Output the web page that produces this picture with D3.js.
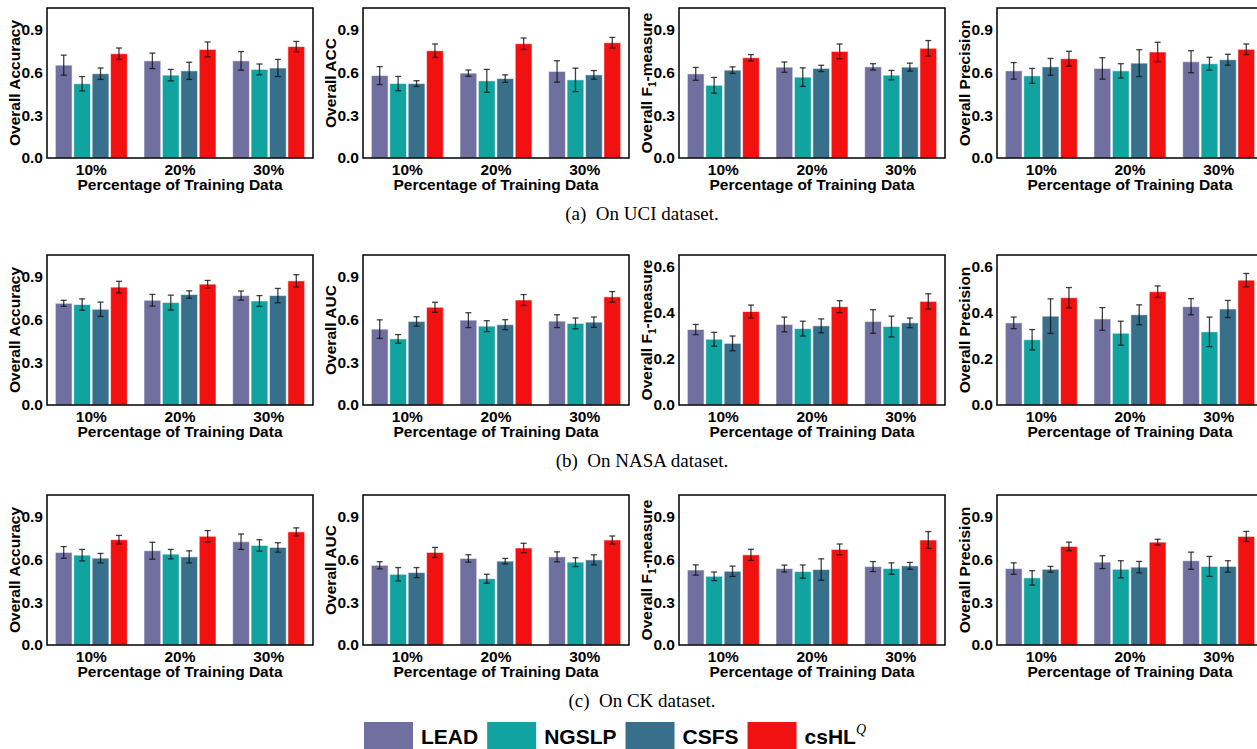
<!DOCTYPE html>
<meta charset="utf-8">
<head>
  <title>Overall results per dataset</title>
</head>
<style>
body { margin: 0; background: #fff; }
svg text { font-family: "Liberation Sans", Arial, sans-serif; font-weight: bold; fill: #000; }
svg text.caption { font-family: "Liberation Serif", "Times New Roman", serif; font-weight: normal; }
</style>
<body>
<svg id="chart" width="1257" height="749"></svg>
<script src="https://cdnjs.cloudflare.com/ajax/libs/d3/7.8.5/d3.min.js"></script>
<script>
// categories and series
const groups = ["10%", "20%", "30%"];
const methods = ["LEAD", "NGSLP", "CSFS", "csHL"];
const colors = ["#7070a0", "#10a3a0", "#38708c", "#f21111"];
const captions = ["(a)  On UCI dataset.", "(b)  On NASA dataset.", "(c)  On CK dataset."];

// values: one row per method, one column per group
const uciAcc = [[0.65, 0.68, 0.68], [0.52, 0.58, 0.62], [0.59, 0.61, 0.63], [0.73, 0.76, 0.78]];
const uciAccErr = [[0.07, 0.054, 0.065], [0.05, 0.04, 0.038], [0.04, 0.06, 0.06], [0.04, 0.052, 0.036]];
const uciACC = [[0.577, 0.594, 0.606], [0.521, 0.54, 0.547], [0.521, 0.556, 0.582], [0.751, 0.80, 0.807]];
const uciACCErr = [[0.063, 0.022, 0.075], [0.05, 0.08, 0.082], [0.02, 0.026, 0.03], [0.047, 0.04, 0.037]];
const uciF1 = [[0.589, 0.636, 0.638], [0.509, 0.566, 0.58], [0.615, 0.627, 0.636], [0.702, 0.746, 0.768]];
const uciF1Err = [[0.045, 0.036, 0.022], [0.055, 0.065, 0.033], [0.023, 0.022, 0.028], [0.022, 0.052, 0.054]];
const uciPre = [[0.61, 0.627, 0.674], [0.575, 0.61, 0.66], [0.638, 0.664, 0.688], [0.695, 0.742, 0.761]];
const uciPreErr = [[0.058, 0.075, 0.077], [0.052, 0.05, 0.045], [0.059, 0.094, 0.038], [0.052, 0.068, 0.037]];

const nasaAcc = [[0.712, 0.733, 0.766], [0.703, 0.717, 0.728], [0.67, 0.773, 0.766], [0.825, 0.846, 0.869]];
const nasaAccErr = [[0.021, 0.041, 0.032], [0.04, 0.052, 0.038], [0.05, 0.026, 0.05], [0.041, 0.026, 0.043]];
const nasaAUC = [[0.531, 0.594, 0.587], [0.463, 0.552, 0.571], [0.585, 0.562, 0.58], [0.684, 0.735, 0.757]];
const nasaAUCErr = [[0.065, 0.052, 0.045], [0.03, 0.038, 0.038], [0.033, 0.035, 0.036], [0.035, 0.038, 0.037]];
const nasaF1 = [[0.327, 0.349, 0.362], [0.285, 0.331, 0.34], [0.267, 0.343, 0.356], [0.405, 0.426, 0.449]];
const nasaF1Err = [[0.022, 0.032, 0.051], [0.03, 0.032, 0.045], [0.032, 0.03, 0.021], [0.028, 0.026, 0.033]];
const nasaPre = [[0.356, 0.373, 0.426], [0.283, 0.311, 0.317], [0.385, 0.391, 0.416], [0.465, 0.491, 0.541]];
const nasaPreErr = [[0.025, 0.049, 0.035], [0.044, 0.052, 0.064], [0.075, 0.043, 0.037], [0.044, 0.025, 0.029]];

const ckAcc = [[0.648, 0.66, 0.723], [0.629, 0.636, 0.697], [0.608, 0.617, 0.683], [0.737, 0.761, 0.792]];
const ckAccErr = [[0.041, 0.059, 0.054], [0.04, 0.033, 0.04], [0.033, 0.042, 0.033], [0.03, 0.04, 0.028]];
const ckAUC = [[0.558, 0.606, 0.617], [0.495, 0.464, 0.58], [0.507, 0.587, 0.596], [0.648, 0.679, 0.735]];
const ckAUCErr = [[0.025, 0.026, 0.035], [0.047, 0.031, 0.031], [0.035, 0.019, 0.035], [0.035, 0.033, 0.028]];
const ckF1 = [[0.525, 0.535, 0.549], [0.481, 0.514, 0.535], [0.516, 0.528, 0.554], [0.631, 0.669, 0.735]];
const ckF1Err = [[0.036, 0.024, 0.035], [0.03, 0.046, 0.04], [0.036, 0.075, 0.024], [0.039, 0.038, 0.059]];
const ckPre = [[0.535, 0.58, 0.59], [0.47, 0.53, 0.55], [0.53, 0.545, 0.55], [0.69, 0.72, 0.76]];
const ckPreErr = [[0.04, 0.045, 0.06], [0.05, 0.06, 0.07], [0.02, 0.04, 0.04], [0.03, 0.02, 0.035]];

const yTicks = [0.0, 0.3, 0.6, 0.9];
const yTicksSmall = [0.0, 0.2, 0.4, 0.6];

const rows = [
  [[uciAcc, uciAccErr, "Overall Accuracy", 1.05, yTicks],
   [uciACC, uciACCErr, "Overall ACC", 1.05, yTicks],
   [uciF1, uciF1Err, "F1", 1.05, yTicks],
   [uciPre, uciPreErr, "Overall Precision", 1.05, yTicks]],
  [[nasaAcc, nasaAccErr, "Overall Accuracy", 1.05, yTicks],
   [nasaAUC, nasaAUCErr, "Overall AUC", 1.05, yTicks],
   [nasaF1, nasaF1Err, "F1", 0.65, yTicksSmall],
   [nasaPre, nasaPreErr, "Overall Precision", 0.65, yTicksSmall]],
  [[ckAcc, ckAccErr, "Overall Accuracy", 1.05, yTicks],
   [ckAUC, ckAUCErr, "Overall AUC", 1.05, yTicks],
   [ckF1, ckF1Err, "F1", 1.05, yTicks],
   [ckPre, ckPreErr, "Overall Precision", 1.05, yTicks]]
];

// layout
const panelX = [47, 363, 679, 997];
const rowTop = [8, 255, 495];
const pw = 266, ph = 150;

const svg = d3.select("#chart");

const x0 = d3.scaleBand().domain(groups).range([0, pw]).paddingInner(0.188).paddingOuter(0.094);
const x1 = d3.scaleBand().domain(methods).range([0, x0.bandwidth()]).paddingInner(0.09);

rows.forEach(function(row, r) {
  row.forEach(function(p, c) {
    const [means, errs, label, ymax, ticks] = p;
    const g = svg.append("g").attr("transform", `translate(${panelX[c]},${rowTop[r]})`);
    const y = d3.scaleLinear().domain([0, ymax]).range([ph, 0]);

    const data = [];
    methods.forEach((m, i) => groups.forEach((k, j) => data.push({m: m, i: i, k: k, v: means[i][j], e: errs[i][j]})));

    g.selectAll("rect.bar").data(data).enter().append("rect")
      .attr("class", "bar")
      .attr("x", d => x0(d.k) + x1(d.m))
      .attr("y", d => y(d.v))
      .attr("width", x1.bandwidth())
      .attr("height", d => ph - y(d.v))
      .attr("fill", d => colors[d.i])
      .attr("stroke", "rgba(255,255,255,0.55)")
      .attr("stroke-width", 1);

    // error bars
    const eb = g.selectAll("g.err").data(data).enter().append("g")
      .attr("class", "err")
      .attr("stroke", "#111").attr("stroke-opacity", 0.8).attr("stroke-width", 1.3);
    const cx = d => x0(d.k) + x1(d.m) + x1.bandwidth() / 2;
    eb.append("line").attr("x1", cx).attr("x2", cx)
      .attr("y1", d => y(d.v - d.e)).attr("y2", d => y(d.v + d.e));
    eb.append("line").attr("x1", d => cx(d) - 3).attr("x2", d => cx(d) + 3)
      .attr("y1", d => y(d.v + d.e)).attr("y2", d => y(d.v + d.e));
    eb.append("line").attr("x1", d => cx(d) - 3).attr("x2", d => cx(d) + 3)
      .attr("y1", d => y(d.v - d.e)).attr("y2", d => y(d.v - d.e));

    // axes
    const ya = g.append("g").call(d3.axisLeft(y).tickValues(ticks).tickFormat(d3.format(".1f")).tickSize(0).tickPadding(4));
    ya.select(".domain").remove();
    ya.selectAll("text").style("font-size", "15.5px").attr("font-family", null);

    const xa = g.append("g").attr("transform", `translate(0,${ph})`)
      .call(d3.axisBottom(x0).tickSize(0).tickPadding(6));
    xa.select(".domain").remove();
    xa.selectAll("text").style("font-size", "15.5px").attr("font-family", null);

    g.append("rect").attr("width", pw).attr("height", ph)
      .attr("fill", "none").attr("stroke", "#000").attr("stroke-width", 1.5);

    g.append("text").attr("x", pw / 2).attr("y", ph + 32)
      .attr("text-anchor", "middle").style("font-size", "15.5px")
      .text("Percentage of Training Data");

    const yl = g.append("text")
      .attr("transform", `translate(-27,${ph / 2}) rotate(-90)`)
      .attr("text-anchor", "middle").style("font-size", "15.5px");
    if (label === "F1") {
      yl.append("tspan").text("Overall F");
      yl.append("tspan").text("1").style("font-size", "10px").attr("dy", 4);
      yl.append("tspan").text("-measure").attr("dy", -4);
    } else {
      yl.text(label);
    }
  });

  svg.append("text").attr("class", "caption")
    .attr("x", 642).attr("y", rowTop[r] + 212)
    .attr("text-anchor", "middle").style("font-size", "19px")
    .attr("xml:space", "preserve")
    .text(captions[r]);
});

// legend
const legend = svg.append("g");
let lx = 364;
methods.forEach(function(m, i) {
  legend.append("rect").attr("x", lx).attr("y", 722).attr("width", 49).attr("height", 27).attr("fill", colors[i]);
  const t = legend.append("text").attr("x", lx + 57).attr("y", 744).style("font-size", "21px");
  t.append("tspan").text(m);
  if (m === "csHL") {
    t.append("tspan").text("Q").attr("dy", -10)
      .style("font-size", "14px").style("font-style", "italic")
      .style("font-family", "'Liberation Serif', serif").style("font-weight", "normal");
  }
  lx += 57 + t.node().getComputedTextLength() + 9;
});
</script>
</body>
</html>
